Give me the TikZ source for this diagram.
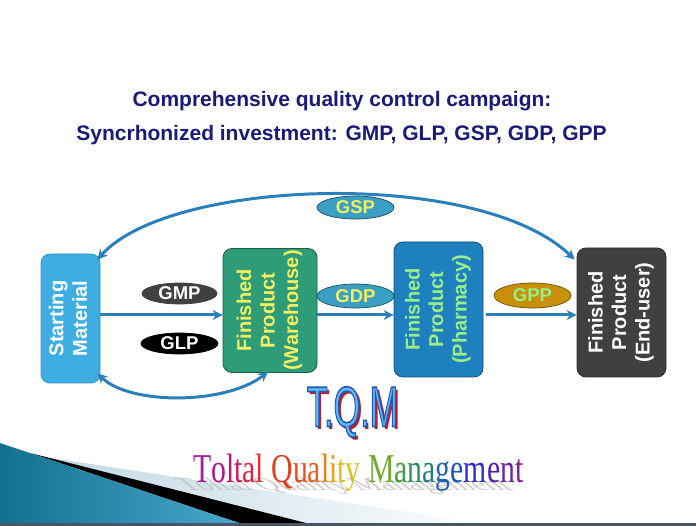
\documentclass[tikz,border=0pt]{standalone}
\usepackage{fontspec}
\setmainfont{Liberation Sans}
\newfontfamily\serifrb{Liberation Serif}
\usetikzlibrary{arrows.meta,shapes.geometric}
\definecolor{navy}{HTML}{1A1A78}
\definecolor{arrblue}{HTML}{2A80BB}
\definecolor{smblue}{HTML}{3EAEE2}
\definecolor{whgreen}{HTML}{2E9C78}
\definecolor{phblue}{HTML}{1F80C0}
\definecolor{eugray}{HTML}{404040}
\definecolor{txyellow}{HTML}{F2F060}
\definecolor{txgreen}{HTML}{98EE88}
\definecolor{ellteal}{HTML}{3A9FC2}
\definecolor{gppgold}{HTML}{C8900A}
\definecolor{tealdark}{HTML}{14708F}
\definecolor{teallight}{HTML}{48AACE}
\definecolor{stripe}{HTML}{C2D8E4}
\definecolor{bottomband}{HTML}{46566A}
\definecolor{tqmfill}{HTML}{62B6F4}
\definecolor{tqmline}{HTML}{2058B8}
\definecolor{tqmshadow}{HTML}{B82030}
\newcommand\rbl[2]{\textcolor[HTML]{#1}{#2}}
\newcommand\rainbow{\rbl{A0209A}{T}\rbl{B01890}{o}\rbl{C01878}{l}\rbl{D01860}{t}\rbl{D82848}{a}\rbl{E03030}{l} \rbl{E04020}{Q}\rbl{E05020}{u}\rbl{E86020}{a}\rbl{E88020}{l}\rbl{E8A020}{i}\rbl{E0B820}{t}\rbl{D0C820}{y} \rbl{70A830}{M}\rbl{40A040}{a}\rbl{309060}{n}\rbl{208080}{a}\rbl{2060B0}{g}\rbl{2050C0}{e}\rbl{3030C0}{m}\rbl{5020B0}{e}\rbl{7020A0}{n}\rbl{8020A0}{t}}
\newcommand\tqmtext{\scalebox{0.6}[1]{\fontsize{57}{57}\selectfont T.Q.M}}
\newcommand\tqmoutlined{\scalebox{0.6}[1]{\fontsize{57}{57}\selectfont\color{tqmfill}\special{pdf:literal direct 2 Tr 1.6 w 0.125 0.345 0.722 RG}T.Q.M\special{pdf:literal direct 0 Tr}}}
\newcommand\rot[1]{\rotatebox{90}{\begin{tabular}{@{}c@{}}#1\end{tabular}}}
\begin{document}
\begin{tikzpicture}[x=1pt,y=-1pt,
  box/.style={rounded corners=9pt, line width=0.8pt, inner sep=0pt,
    font=\bfseries\fontsize{20}{23.5}\selectfont},
  ell/.style={ellipse, draw, line width=0.7pt, inner sep=0pt,
    minimum width=77pt, minimum height=22pt,
    font=\bfseries\fontsize{18.5}{20}\selectfont},
  arr/.style={draw=arrblue, line width=3pt, -{Stealth[length=10pt,width=10pt]}},
  darr/.style={draw=arrblue, line width=3pt, {Stealth[length=10pt,width=10pt]}-{Stealth[length=10pt,width=10pt]}},
  title/.style={text=navy, font=\bfseries\fontsize{21}{24}\selectfont, inner sep=0pt}]
\useasboundingbox (0,0) rectangle (696,526);
\fill[white] (0,0) rectangle (696,526);
% bottom-left decoration
\shade[left color=stripe, right color=white] (44,457) -- (500,526) -- (318,526) -- cycle;
\fill[black] (30,453) -- (318,526) -- (248,526) -- cycle;
\shade[left color=tealdark, right color=teallight] (0,443) -- (248,526) -- (0,526) -- cycle;
\fill[bottomband] (0,523) rectangle (696,526);
% titles
\node[title] (t1) at (342,101) {Comprehensive quality control campaign:};
\node[title] (t2) at (341.5,135) {Syncrhonized investment: GMP, GLP, GSP, GDP, GPP};
% boxes
\node[box, fill=smblue, draw=smblue!85!black, text=white, minimum width=59pt, minimum height=129pt] (sm) at (70.5,318.5) {\rot{Starting\\Material}};
\node[box, fill=whgreen, draw=whgreen!60!black, text=txyellow, minimum width=94pt, minimum height=124pt] (wh) at (270,310.5) {\rot{Finished\\Product\\(Warehouse)}};
\node[box, fill=phblue, draw=phblue!60!black, text=txgreen, minimum width=89pt, minimum height=135pt] (ph) at (438.5,309.5) {\rot{Finished\\Product\\(Pharmacy)}};
\node[box, fill=eugray, draw=eugray!70!black, text=white, minimum width=89pt, minimum height=129pt] (eu) at (621.5,312.5) {\rot{Finished\\Product\\(End-user)}};
% connectors
\coordinate (lvl) at (0,315);
\draw[arr] (sm.east |- lvl) -- (wh.west |- lvl);
\draw[arr] (wh.east |- lvl) -- (ph.west |- lvl);
\draw[arr, shorten <=3pt] (ph.east |- lvl) -- (eu.west |- lvl);
\draw[darr] ([xshift=-3pt,yshift=-6pt]sm.north east) .. controls (170,178) and (480,168) .. ([xshift=-2pt,yshift=-12pt]eu.north west);
\draw[darr] ([xshift=-3pt,yshift=10pt]sm.south east) .. controls (130,405) and (225,405) .. ([xshift=-2pt,yshift=1pt]wh.south);
% labels
\node[ell, fill=eugray, draw=eugray, text=white, minimum width=75pt, minimum height=21pt] (gmp) at (179.5,293.5) {GMP};
\node[ell, fill=black, draw=black, text=white, minimum width=77pt, minimum height=21pt] (glp) at (179.5,343.5) {GLP};
\node[ell, fill=ellteal, draw=ellteal!50!black, text=txyellow, minimum height=24pt] (gdp) at (355.5,296) {GDP};
\node[ell, fill=gppgold, draw=gppgold!55!black, text=txgreen, minimum height=25pt] (gpp) at (532.5,295.5) {GPP};
\node[ell, fill=ellteal, draw=ellteal!50!black, text=txyellow, minimum height=23pt] (gsp) at (355.5,207.5) {GSP};
% T.Q.M
\node[text=tqmshadow, inner sep=0pt] (tqms) at (355,414.5) {\tqmtext};
\node[inner sep=0pt] (tqm) at (352.5,412) {\tqmoutlined};
% Total Quality Management
\begin{scope}[shift={(186,490)}, xslant=-1.2, yscale=0.45]
\node[transform shape, anchor=base west, inner sep=0pt, text=black!25, opacity=0.8] (rbs) at (0,0) {\scalebox{0.725}[1]{\serifrb\fontsize{41}{41}\selectfont Toltal Quality Management}};
\end{scope}
\node[anchor=base west, inner sep=0pt] (rb) at (193,482) {\scalebox{0.725}[1]{\serifrb\fontsize{41}{41}\selectfont\rainbow}};
\end{tikzpicture}
\end{document}
